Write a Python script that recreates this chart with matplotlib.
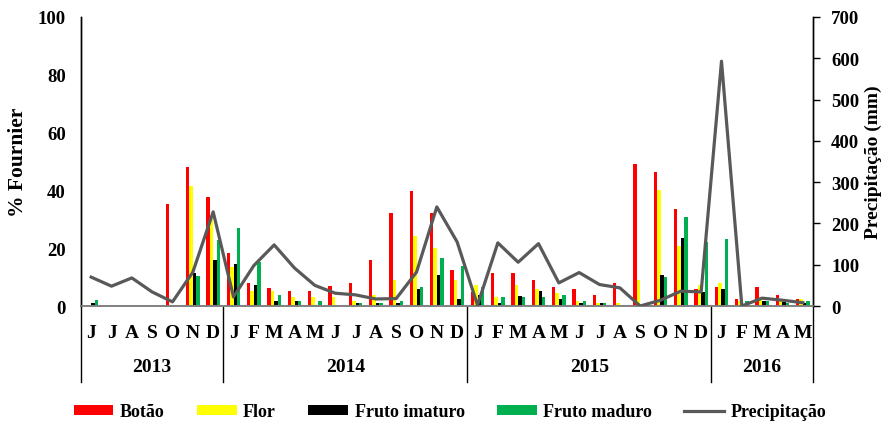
import matplotlib
matplotlib.use("Agg")
import matplotlib.pyplot as plt
import numpy as np
from matplotlib.lines import Line2D
from matplotlib.patches import Patch
import matplotlib.transforms as mtransforms

plt.rcParams['font.family'] = ['Liberation Serif', 'DejaVu Serif']
plt.rcParams['font.weight'] = 'bold'

months = ['J', 'J', 'A', 'S', 'O', 'N', 'D',
          'J', 'F', 'M', 'A', 'M', 'J', 'J', 'A', 'S', 'O', 'N', 'D',
          'J', 'F', 'M', 'A', 'M', 'J', 'J', 'A', 'S', 'O', 'N', 'D',
          'J', 'F', 'M', 'A', 'M']
years = ['2013', '2014', '2015', '2016']
year_counts = [7, 12, 12, 5]

botao = [0, 0, 0, 0, 35.4, 48, 37.7,
         18.4, 8.1, 6.2, 5.1, 5.1, 6.9, 8.1, 15.8, 32.3, 39.9, 32.3, 12.3,
         5.0, 11.5, 11.5, 8.9, 6.6, 5.8, 3.9, 8.1, 49.2, 46.5, 33.4, 6.0,
         6.6, 2.5, 6.6, 3.9, 2.3]
flor = [0, 0, 0, 0, 0, 41.5, 30,
        13.5, 5.1, 5.1, 3.1, 3.1, 3.1, 1.6, 3.9, 8.9, 24.2, 20.1, 8.9,
        7.4, 3.1, 7.4, 5.8, 4.6, 1.6, 1, 1, 8.9, 40, 20.8, 7.4,
        8.1, 1.9, 3.1, 1.9, 2.3]
imaturo = [1.1, 0, 0, 0, 0, 11.5, 15.8,
           14.6, 7.4, 1.9, 1.9, 0, 0, 1, 1, 1, 5.8, 10.8, 2.3,
           3.7, 1, 3.5, 5.1, 2.3, 1, 1, 0, 0, 10.8, 23.5, 4.8,
           5.8, 0, 1.9, 1.4, 1]
maduro = [2, 0, 0, 0, 0, 10.5, 23,
          27, 15.2, 3.9, 1.9, 1.9, 0, 1, 1, 1.6, 6.6, 16.6, 13.8,
          6.6, 3.1, 3.1, 3.1, 3.9, 1.6, 1, 0, 0, 10, 30.8, 22.1,
          23.3, 1.6, 1.6, 1.2, 1.6]
precip = [70, 48, 68, 34, 10, 82, 228,
          22, 98, 148, 92, 50, 31, 27, 17, 18, 82, 240, 155,
          2, 153, 106, 151, 56, 81, 52, 44, 0, 14, 36, 34,
          593, 0, 19, 14, 8]

series = [('Botão', botao, '#FF0000'), ('Flor', flor, '#FFFF00'),
          ('Fruto imaturo', imaturo, '#000000'), ('Fruto maduro', maduro, '#00B050')]

fig = plt.figure(figsize=(8.86, 4.27), dpi=100)
ax = fig.add_axes([81/886, 1-307/427, (813-81)/886, (307-18)/427])
ax2 = ax.twinx()

x = np.arange(len(months))
w = 0.165
for i, (name, vals, col) in enumerate(series):
    ax.bar(x + (i - 1.5) * w, vals, width=w, color=col, zorder=2)

ax2.plot(x, precip, color='#595959', lw=2.3, zorder=3)

ax.set_xlim(-0.5, len(months) - 0.5)
ax.set_ylim(0, 100)
ax2.set_ylim(0, 700)
ax.set_yticks(np.arange(0, 101, 20))
ax2.set_yticks(np.arange(0, 701, 100))
ax.tick_params(axis='y', length=0, labelsize=13.5, pad=11)
ax2.tick_params(axis='y', length=5, width=1, labelsize=13.5, pad=8)
for t in ax.get_yticklabels() + ax2.get_yticklabels():
    t.set_fontweight('bold')

ax.set_xticks(x)
ax.set_xticklabels(months, fontsize=14, fontweight='bold')
ax.tick_params(axis='x', length=0, pad=13)

for a in (ax, ax2):
    a.spines['top'].set_visible(False)
    a.spines['left'].set_linewidth(1.0)
    a.spines['right'].set_linewidth(1.0)
    a.spines['bottom'].set_color('#808080')
    a.spines['bottom'].set_linewidth(1.2)

ax.set_ylabel('% Fournier', fontsize=15.5, fontweight='bold', labelpad=7)
ax2.set_ylabel('Precipitação (mm)', fontsize=14, fontweight='bold', labelpad=4)

# vertical separators and year labels below axis
trans = mtransforms.blended_transform_factory(ax.transData, ax.transAxes)
y_low = -(383 - 307) / (307 - 18)
bounds = np.concatenate([[0], np.cumsum(year_counts)]) - 0.5
for b in bounds:
    ax.add_line(Line2D([b, b], [0, y_low], transform=trans, color='black', lw=1.0, clip_on=False))
for k, yr in enumerate(years):
    mid = (bounds[k] + bounds[k + 1]) / 2
    ax.text(mid, -(368 - 307) / (307 - 18), yr, transform=trans, ha='center', va='center',
            fontsize=14, fontweight='bold')

handles = [Patch(facecolor=c, edgecolor='none', label=n) for n, _, c in series]
handles.append(Line2D([], [], color='#595959', lw=2.3, label='Precipitação'))
leg = fig.legend(handles=handles, loc='center', bbox_to_anchor=(450/886, 1 - 413/427), ncol=5,
                 frameon=False, handlelength=2.2, handleheight=0.5,
                 columnspacing=1.8, handletextpad=0.35, prop={'weight': 'bold', 'size': 13})

fig.savefig('out.png', dpi=100)
